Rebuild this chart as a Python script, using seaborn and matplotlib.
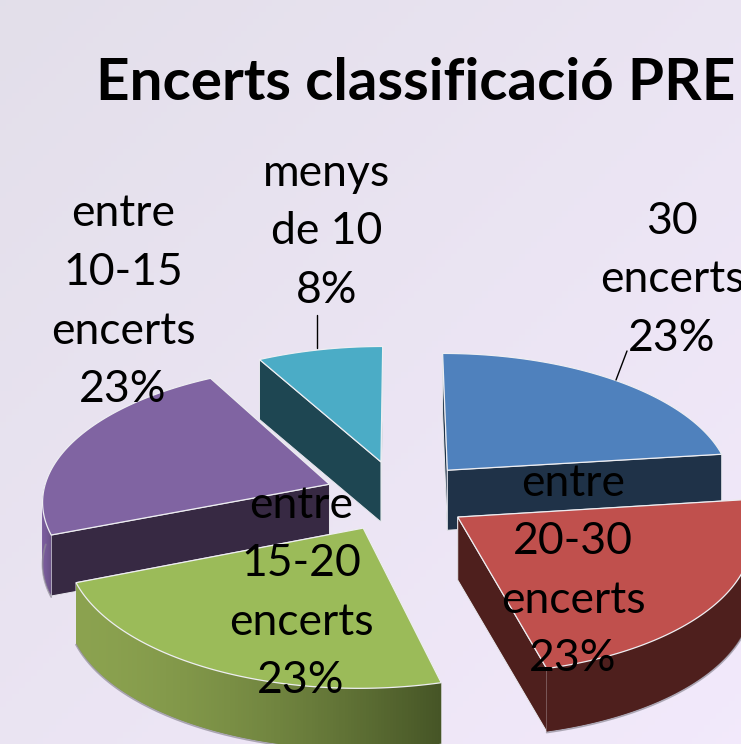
import numpy as np
import matplotlib
matplotlib.use("Agg")
import matplotlib.pyplot as plt
from matplotlib.patches import Polygon
import seaborn as sns

# --- data ---
categories = ["30 encerts", "entre 20-30 encerts", "entre 15-20 encerts",
              "entre 10-15 encerts", "menys de 10"]
shares = [23, 23, 23, 23, 8]
title = "Encerts classificació PRE"
label_lines = [
    ["30", "encerts", "23%"],
    ["entre", "20-30", "encerts", "23%"],
    ["entre", "15-20", "encerts", "23%"],
    ["entre", "10-15", "encerts", "23%"],
    ["menys", "de 10", "8%"],
]
top_colors = ["#4f81bd", "#c0504d", "#9bbb59", "#8064a2", "#4bacc6"]
radial_colors = ["#1f3248", "#4e1f1d", "#4a5a28", "#372943", "#1e4652"]
arc_from = ["#1f3248", "#4e1f1d", "#8ba24f", "#7a5c9c", "#1e4652"]
arc_to = ["#1f3248", "#4e1f1d", "#465526", "#6b5388", "#1e4652"]

# --- style / geometry ---
CX, CY, RX, RY, K, DEPTH, EXPLODE = 395, 492, 287, 135, 0.11, 61, 0.26
nudge = [(4, 4), (0, 5), (3, 4), (4, 4), (4, 3)]
depths = [60, 63, 61, 61, 60]
label_pos = [(672, 221), (573, 483), (301, 505), (123, 214), (327, 173)]
LINE = 58.6
FONT = "Lato"

sns.set_theme(style="white")
plt.rcParams["font.family"] = [FONT, "DejaVu Sans"]

fig = plt.figure(figsize=(7.41, 7.44), dpi=100)
ax = fig.add_axes([0, 0, 1, 1])
ax.set_xlim(0, 741)
ax.set_ylim(744, 0)
ax.axis("off")

# background gradient
gx, gy = np.meshgrid(np.linspace(0, 1, 120), np.linspace(0, 1, 120))
g = ((gx + gy) / 2)[..., None]
bg = np.array([0.890, 0.875, 0.918]) * (1 - g) + np.array([0.950, 0.915, 0.985]) * g
ax.imshow(bg, extent=(0, 741, 744, 0), aspect="auto", zorder=0)


def project(u, v, nx=0.0, ny=0.0):
    w = 1 + K * v
    return CX + RX * u / w + nx, CY - RY * v / w + ny


def hex2rgb(h):
    return np.array(matplotlib.colors.to_rgb(h))


fractions = np.array(shares, dtype=float) / np.sum(shares)
edges = 90 - 360 * np.concatenate([[0], np.cumsum(fractions)])
order = [0, 4, 3, 1, 2]

for i in order:
    a0, a1 = edges[i], edges[i + 1]
    d = depths[i]
    z = 2 + order.index(i)
    mid = np.radians((a0 + a1) / 2)
    ox, oy = EXPLODE * np.cos(mid), EXPLODE * np.sin(mid)
    th = np.radians(np.linspace(a0, a1, 160))
    au, av = ox + np.cos(th), oy + np.sin(th)
    ax_, ay_ = project(au, av, *nudge[i])
    cx_, cy_ = project(ox, oy, *nudge[i])

    # radial walls, the one lower on the page last
    ends = sorted([(ay_[0], ax_[0]), (ay_[-1], ax_[-1])])
    for ey, ex in ends:
        ax.add_patch(Polygon([(cx_, cy_), (ex, ey), (ex, ey + d), (cx_, cy_ + d)],
                             fc=radial_colors[i], ec="#e8e8ee", lw=0.7, zorder=z))
    # outer wall, only where it faces the viewer
    idx = np.where(np.sin(th) < 0.02)[0]
    if len(idx) > 1:
        xs = ax_[idx]
        lo, hi = xs.min(), xs.max()
        for j in range(len(idx) - 1):
            p, q = idx[j], idx[min(j + 3, len(idx) - 1)]
            t = ((xs[j] - lo) / max(hi - lo, 1)) ** 1.6
            col = hex2rgb(arc_from[i]) * (1 - t) + hex2rgb(arc_to[i]) * t
            ax.add_patch(Polygon([(ax_[p], ay_[p]), (ax_[q], ay_[q]),
                                  (ax_[q], ay_[q] + d), (ax_[p], ay_[p] + d)],
                                 fc=col, ec="none", zorder=z))
        ax.plot(ax_[idx], ay_[idx] + d + 1, color="#8e8a96", lw=1.3, alpha=0.7, zorder=z)
    # top face
    pts = [(cx_, cy_)] + list(zip(ax_, ay_))
    ax.add_patch(Polygon(pts, closed=True, fc=top_colors[i], ec="#eeeef2", lw=0.9,
                         zorder=z + 0.5))

# leader lines
ax.plot([317, 317], [315, 348], color="black", lw=1, zorder=9)
ax.plot([627, 616], [351, 380], color="black", lw=1, zorder=9)

# labels
for lines, (lx, ly) in zip(label_lines, label_pos):
    for n, s in enumerate(lines):
        ax.text(lx, ly + n * LINE, s, ha="center", va="center", fontsize=32,
                color="black", zorder=10, family=[FONT, "DejaVu Sans"])

ax.text(416, 84, title, ha="center", va="center", fontsize=42, fontweight="bold",
        color="black", zorder=10, family=[FONT, "DejaVu Sans"])

fig.savefig("out.png", dpi=100)
